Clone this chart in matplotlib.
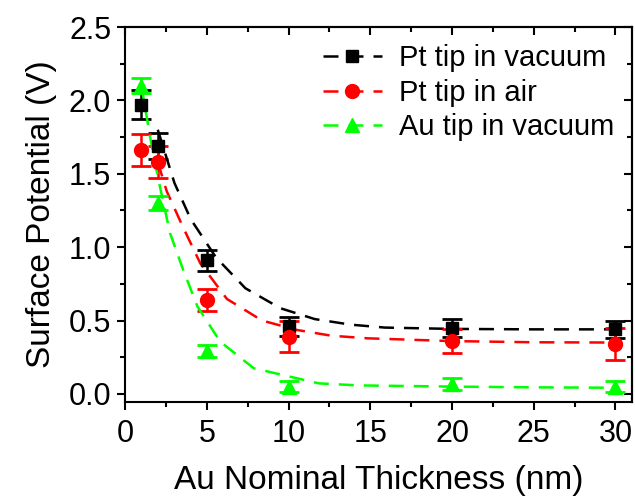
import matplotlib.pyplot as plt
from matplotlib.ticker import MultipleLocator

plt.rcParams['font.family'] = ['Liberation Sans', 'DejaVu Sans']

# measured points
thickness = [1, 2, 5, 10, 20, 30]
pt_vac = [1.97, 1.69, 0.91, 0.46, 0.45, 0.44]
pt_vac_err = [0.10, 0.09, 0.07, 0.065, 0.06, 0.06]
pt_air = [1.66, 1.58, 0.64, 0.39, 0.36, 0.34]
pt_air_err = [0.11, 0.11, 0.075, 0.105, 0.08, 0.11]
au_vac = [2.10, 1.30, 0.29, 0.05, 0.07, 0.05]
au_vac_err = [0.05, 0.05, 0.04, 0.04, 0.04, 0.04]

# dashed fit curves
fit_pt_vac_x = [2, 3.02, 4.02, 5.56, 7.36, 9.5, 11.6, 13.8, 15.9, 20, 25, 30]
fit_pt_vac_y = [1.80, 1.437, 1.19, 0.93, 0.72, 0.584, 0.51, 0.472, 0.452, 0.443, 0.44, 0.44]
fit_pt_air_x = [2, 2.55, 3.57, 4.6, 6.23, 8.38, 10.5, 12.6, 14.8, 20, 25, 30]
fit_pt_air_y = [1.58, 1.38, 1.13, 0.89, 0.647, 0.50, 0.436, 0.397, 0.379, 0.36, 0.352, 0.35]
fit_au_vac_x = [1, 1.12, 1.53, 2, 2.75, 3.57, 4.43, 5.82, 7.87, 11.85, 14.3, 20, 25, 30]
fit_au_vac_y = [2.10, 2.02, 1.75, 1.48, 1.095, 0.84, 0.595, 0.356, 0.175, 0.072, 0.058, 0.05, 0.045, 0.042]

fig = plt.figure(figsize=(6.35, 5), dpi=100)
ax = fig.add_axes([0.197, 0.196, 0.798, 0.75])

series = [
    (fit_pt_vac_x, fit_pt_vac_y, pt_vac, pt_vac_err, 'black', 's', 8, 'Pt tip in vacuum'),
    (fit_pt_air_x, fit_pt_air_y, pt_air, pt_air_err, 'red', 'o', 10, 'Pt tip in air'),
    (fit_au_vac_x, fit_au_vac_y, au_vac, au_vac_err, '#00ff00', '^', 10, 'Au tip in vacuum'),
]

handles = []
for fx, fy, y, err, col, mk, ms, lab in series:
    ax.plot(fx, fy, color=col, lw=1.8, dashes=(6, 4))
    ax.errorbar(thickness, y, yerr=err, fmt=mk, color=col, ms=ms,
                elinewidth=1.8, capsize=7, capthick=2)
    h, = ax.plot([], [], color=col, lw=1.8, dashes=(6, 4), marker=mk, ms=ms)
    handles.append(h)

ax.legend(handles, [s[-1] for s in series], loc='upper right', frameon=False,
          fontsize=21, handlelength=2.0, labelspacing=0.22, handletextpad=0.6,
          borderaxespad=0.3, borderpad=0.3)

ax.set_xlim(0, 31)
ax.set_ylim(-0.055, 2.5)
ax.xaxis.set_major_locator(MultipleLocator(5))
ax.xaxis.set_minor_locator(MultipleLocator(2.5))
ax.yaxis.set_major_locator(MultipleLocator(0.5))
ax.yaxis.set_minor_locator(MultipleLocator(0.25))
ax.tick_params(which='both', direction='out', width=1.5, labelsize=22)
ax.tick_params(which='major', length=6, pad=4)
ax.tick_params(axis='x', which='major', pad=6)
ax.tick_params(which='minor', length=3.5)
ax.set_yticks([0.0, 0.5, 1.0, 1.5, 2.0, 2.5])
ax.set_yticklabels(['0.0', '0.5', '1.0', '1.5', '2.0', '2.5'])

# inward ticks on top and right
tx = ax.secondary_xaxis('top')
tx.xaxis.set_major_locator(MultipleLocator(5))
tx.xaxis.set_minor_locator(MultipleLocator(2.5))
tx.tick_params(which='both', direction='in', width=1.5, labeltop=False)
tx.tick_params(which='major', length=6)
tx.tick_params(which='minor', length=3.5)
ty = ax.secondary_yaxis('right')
ty.yaxis.set_major_locator(MultipleLocator(0.5))
ty.yaxis.set_minor_locator(MultipleLocator(0.25))
ty.tick_params(which='both', direction='in', width=1.5, labelright=False)
ty.tick_params(which='major', length=6)
ty.tick_params(which='minor', length=3.5)

for sp in ax.spines.values():
    sp.set_linewidth(1.5)
tx.spines['top'].set_linewidth(1.5)
ty.spines['right'].set_linewidth(1.5)

ax.set_xlabel('Au Nominal Thickness (nm)', fontsize=24, labelpad=12)
ax.set_ylabel('Surface Potential (V)', fontsize=24, labelpad=8)

fig.savefig('out.png', dpi=100)
